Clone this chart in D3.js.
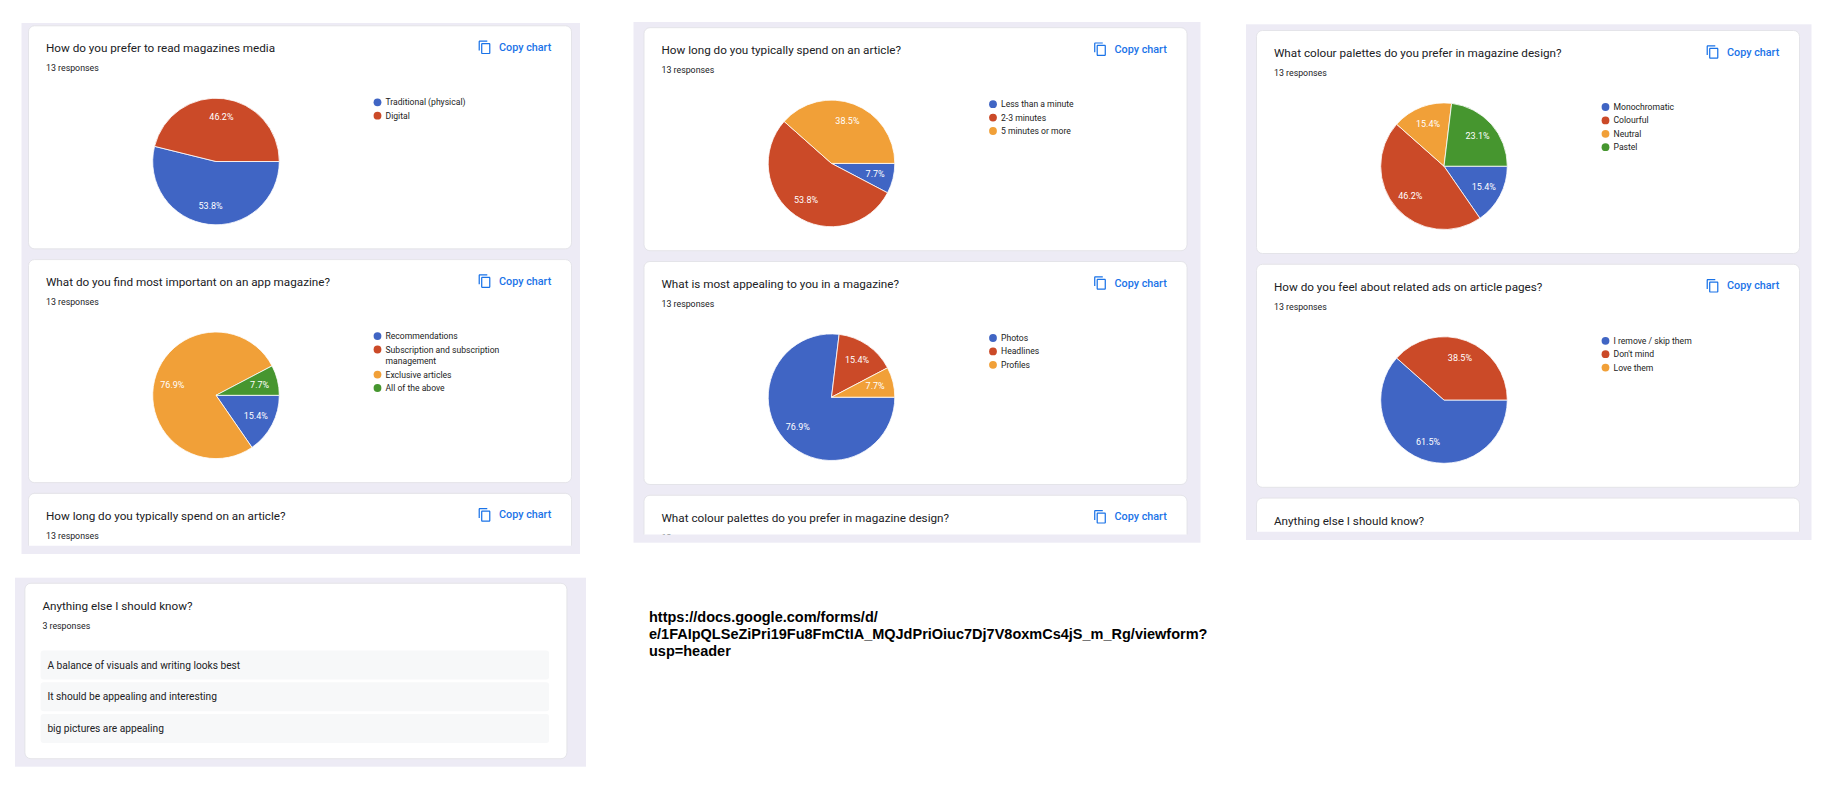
<!DOCTYPE html>
<html>
<head>
<meta charset="utf-8">
<script src="https://cdn.jsdelivr.net/npm/d3@7"></script>
<style>
  body { margin: 0; background: #fff; }
  text { font-family: Roboto, "Noto Sans", sans-serif; }
</style>
</head>
<body>
<svg id="page"></svg>
<script>
// survey results, 13 responses per question
const responseTotal = 13;

const readLabels = ["Traditional (physical)", "Digital"];
const readCounts = [7, 6];

const importantLabels = ["Recommendations", "Subscription and subscription management", "Exclusive articles", "All of the above"];
const importantCounts = [2, 0, 10, 1];

const timeLabels = ["Less than a minute", "2-3 minutes", "5 minutes or more"];
const timeCounts = [1, 7, 5];

const appealLabels = ["Photos", "Headlines", "Profiles"];
const appealCounts = [10, 2, 1];

const paletteLabels = ["Monochromatic", "Colourful", "Neutral", "Pastel"];
const paletteCounts = [2, 6, 2, 3];

const adsLabels = ["I remove / skip them", "Don't mind", "Love them"];
const adsCounts = [8, 5, 0];

const otherAnswers = [
    "A balance of visuals and writing looks best",
    "It should be appealing and interesting",
    "big pictures are appealing"
];

const formUrl = [
    "https://docs.google.com/forms/d/",
    "e/1FAIpQLSeZiPri19Fu8FmCtIA_MQJdPriOiuc7Dj7V8oxmCs4jS_m_Rg/viewform?",
    "usp=header"
];

const sliceColors = ["#4065c4", "#cb4a28", "#f1a038", "#46962f"];

const questions = {
    read: { title: "How do you prefer to read magazines media", labels: readLabels, counts: readCounts },
    important: { title: "What do you find most important on an app magazine?", labels: importantLabels, counts: importantCounts },
    time: { title: "How long do you typically spend on an article?", labels: timeLabels, counts: timeCounts },
    appeal: { title: "What is most appealing to you in a magazine?", labels: appealLabels, counts: appealCounts },
    palette: { title: "What colour palettes do you prefer in magazine design?", labels: paletteLabels, counts: paletteCounts },
    ads: { title: "How do you feel about related ads on article pages?", labels: adsLabels, counts: adsCounts },
    other: { title: "Anything else I should know?", answers: otherAnswers }
};

const width = 1838;
const height = 788;
const cardW = 543;
const cardH = 223;
const cardStep = 233.8;
const pieR = 63.3;

const svg = d3.select("#page").attr("width", width).attr("height", height);

const copyIconPath = "M16 1H4c-1.1 0-2 .9-2 2v14h2V3h12V1zm3 4H8c-1.1 0-2 .9-2 2v14c0 1.1.9 2 2 2h11c1.1 0 2-.9 2-2V7c0-1.1-.9-2-2-2zm0 16H8V7h11v14z";

function wrapText(textSel, maxWidth) {
    textSel.each(function () {
        const text = d3.select(this);
        const words = text.text().split(/\s+/);
        const x = text.attr("x");
        text.text(null);
        let line = [];
        let tspan = text.append("tspan").attr("x", x).attr("dy", 0);
        words.forEach(word => {
            line.push(word);
            tspan.text(line.join(" "));
            if (tspan.node().getComputedTextLength() > maxWidth && line.length > 1) {
                line.pop();
                tspan.text(line.join(" "));
                line = [word];
                tspan = text.append("tspan").attr("x", x).attr("dy", 11.7).text(word);
            }
        });
    });
}

function drawPie(g, q, cx, cy, legendX, legendY) {
    const pie = d3.pie().sort(null).value(d => d)
        .startAngle(Math.PI / 2).endAngle(Math.PI / 2 + 2 * Math.PI);
    const arcs = pie(q.counts).map((d, i) => Object.assign(d, { i: i }));
    const arc = d3.arc().innerRadius(0).outerRadius(pieR);
    const labelArc = d3.arc().innerRadius(pieR * 0.71).outerRadius(pieR * 0.71);

    const pg = g.append("g").attr("transform", `translate(${cx},${cy})`);
    pg.selectAll("path")
        .data(arcs.filter(d => d.value > 0))
        .enter()
        .append("path")
        .attr("d", arc)
        .attr("fill", d => sliceColors[d.i])
        .attr("stroke", "#fff")
        .attr("stroke-width", 0.8);

    pg.selectAll("text")
        .data(arcs.filter(d => d.value > 0))
        .enter()
        .append("text")
        .attr("x", d => labelArc.centroid(d)[0])
        .attr("y", d => labelArc.centroid(d)[1])
        .attr("text-anchor", "middle")
        .attr("dominant-baseline", "central")
        .style("font-size", "9px")
        .style("fill", "#fff")
        .text(d => (d.value / responseTotal * 100).toFixed(1) + "%");

    // legend, one row per option (long names wrap)
    let y = legendY;
    q.labels.forEach((label, i) => {
        g.append("circle")
            .attr("cx", legendX)
            .attr("cy", y)
            .attr("r", 3.9)
            .attr("fill", sliceColors[i]);
        const t = g.append("text")
            .attr("x", legendX + 8)
            .attr("y", y)
            .attr("dominant-baseline", "central")
            .style("font-size", "8.6px")
            .style("fill", "#222")
            .text(label);
        wrapText(t, 118);
        y += 13.4 + (t.selectAll("tspan").size() - 1) * 11.7;
    });
}

// cut = card hidden below the panel edge, only its header is drawn
function drawCard(g, x, y, w, h, q, withCopy, cut) {
    g.append("rect")
        .attr("x", x).attr("y", y)
        .attr("width", w).attr("height", h)
        .attr("rx", 6).attr("ry", 6)
        .attr("fill", "#fff")
        .attr("stroke", "#dfe0e4")
        .attr("stroke-width", 0.8);

    g.append("text")
        .attr("x", x + 17.5)
        .attr("y", y + 22.5)
        .attr("dominant-baseline", "central")
        .style("font-size", "11.7px")
        .style("fill", "#202124")
        .text(q.title);

    const n = q.answers ? q.answers.length : responseTotal;
    if (!cut || cut > 36) {
        g.append("text")
            .attr("x", x + 17.5)
            .attr("y", y + 42.3)
            .attr("dominant-baseline", "central")
            .style("font-size", "8.8px")
            .style("fill", "#202124")
            .text(`${n} responses`);
    }

    if (withCopy) {
        g.append("path")
            .attr("d", copyIconPath)
            .attr("fill", "#1a73e8")
            .attr("transform", `translate(${x + 456 - 11.5 * 0.62},${y + 21.5 - 12 * 0.62}) scale(0.62)`);
        g.append("text")
            .attr("x", x + 470.5)
            .attr("y", y + 21.5)
            .attr("dominant-baseline", "central")
            .style("font-size", "10.8px")
            .style("font-weight", 500)
            .style("fill", "#1a73e8")
            .text("Copy chart");
    }

    if (q.counts && !cut) {
        drawPie(g, q, x + 187.5, y + 135.7, x + 349, y + 76.5);
    }
}

// three screenshot columns, each clipped at its bottom edge
const panels = [
    { x: 21.5, y: 23, w: 558.5, h: 531, cardX: 28.5, cardY: 25.8, cards: ["read", "important", "time"] },
    { x: 633.5, y: 22, w: 567, h: 520.7, cardX: 644, cardY: 27.7, cards: ["time", "appeal", "palette"] },
    { x: 1246, y: 24.3, w: 565.5, h: 515.7, cardX: 1256.5, cardY: 30.5, cards: ["palette", "ads", "other"] }
];

panels.forEach((p, pi) => {
    svg.append("rect")
        .attr("x", p.x).attr("y", p.y)
        .attr("width", p.w).attr("height", p.h)
        .attr("fill", "#edebf5");

    const clipBottom = p.y + p.h - 8.3;
    svg.append("clipPath")
        .attr("id", `clip${pi}`)
        .append("rect")
        .attr("x", p.x).attr("y", p.y)
        .attr("width", p.w).attr("height", clipBottom - p.y);

    const g = svg.append("g").attr("clip-path", `url(#clip${pi})`);
    p.cards.forEach((key, ci) => {
        const cy = p.cardY + ci * cardStep;
        const cut = cy + cardH > clipBottom ? clipBottom - cy : 0;
        drawCard(g, p.cardX, cy, cardW, cardH, questions[key], key !== "other", cut);
    });
});

// text answers card
const bottom = { x: 15, y: 577.7, w: 571, h: 189, cardX: 24.9, cardY: 583.3, cardW: 542, cardH: 175.4 };
svg.append("rect")
    .attr("x", bottom.x).attr("y", bottom.y)
    .attr("width", bottom.w).attr("height", bottom.h)
    .attr("fill", "#edebf5");
const bg = svg.append("g");
drawCard(bg, bottom.cardX, bottom.cardY, bottom.cardW, bottom.cardH, questions.other, false, 0);

const answerY = d3.scaleBand()
    .domain(otherAnswers)
    .range([bottom.cardY + 67.3, bottom.cardY + 159.7])
    .paddingInner(0.09);

bg.selectAll(".answer")
    .data(otherAnswers)
    .enter()
    .append("rect")
    .attr("class", "answer")
    .attr("x", bottom.cardX + 15.7)
    .attr("y", d => answerY(d))
    .attr("width", 508.5)
    .attr("height", answerY.bandwidth())
    .attr("rx", 3)
    .attr("fill", "#f7f8f9");

bg.selectAll(".answerText")
    .data(otherAnswers)
    .enter()
    .append("text")
    .attr("class", "answerText")
    .attr("x", bottom.cardX + 22.5)
    .attr("y", d => answerY(d) + answerY.bandwidth() / 2)
    .attr("dominant-baseline", "central")
    .style("font-size", "10.2px")
    .style("fill", "#202124")
    .text(d => d);

// form link
svg.append("g")
    .selectAll("text")
    .data(formUrl)
    .enter()
    .append("text")
    .attr("x", 649)
    .attr("y", (d, i) => 616.7 + i * 17.2)
    .attr("dominant-baseline", "central")
    .style("font-family", "'Liberation Sans', Arial, sans-serif")
    .style("font-weight", "bold")
    .style("font-size", "14.5px")
    .style("fill", "#000")
    .text(d => d);
</script>
</body>
</html>
